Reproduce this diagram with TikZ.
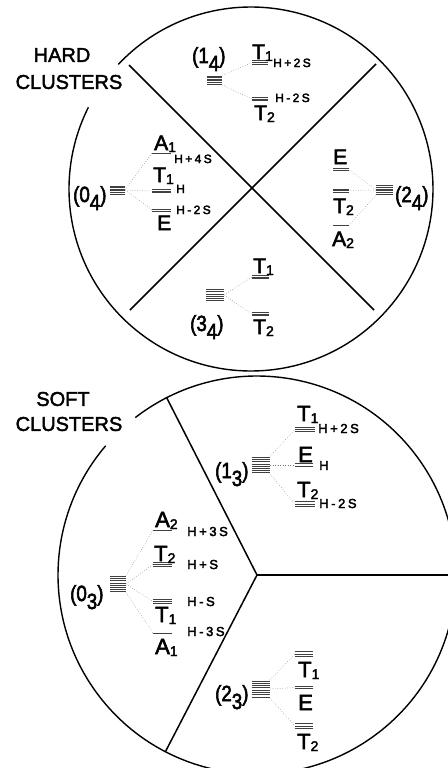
\documentclass[tikz,border=0pt]{standalone}
\usepackage{fontspec}
\setmainfont{Liberation Sans}
\newfontfamily\lblfont{Liberation Sans}[FakeBold=2.5]
\newfontfamily\clfont{Liberation Sans}[FakeBold=2.5, FakeStretch=0.85]
\newfontfamily\bigfont{Liberation Sans}[FakeBold=2]
\newfontfamily\elabfont{Liberation Sans}[LetterSpace=20, FakeBold=3]
\usetikzlibrary{calc}
\newcommand\lsub[1]{\raisebox{-2pt}{\fontsize{14}{14}\selectfont #1}}
\newcommand\csub[1]{\raisebox{-8pt}{#1}}
% level: name, xleft, xright, ycenter, number of lines, spacing
\newcommand\levl[6]{%
  \node[levnode, minimum width={(#3-#2)*1pt}, minimum height={#5*#6*1pt}] (#1) at ({(#2+#3)/2},#4) {};
  \foreach \k in {1,...,#5}{\draw[levline] (#2,{#4+(\k-(#5+1)/2)*#6}) -- (#3,{#4+(\k-(#5+1)/2)*#6});}%
}
\begin{document}
\begin{tikzpicture}[x=1pt, y=-1pt,
  circ/.style={line width=1.4pt},
  spoke/.style={line width=1.5pt},
  levline/.style={line width=0.8pt, black!75},
  levnode/.style={inner sep=0pt, outer sep=0pt, draw=none},
  conn/.style={dotted, line width=0.5pt, black!55},
  big/.style={font=\bigfont\fontsize{20}{22}\selectfont, inner sep=0pt},
  clus/.style={font=\clfont\fontsize{22}{24}\selectfont, inner sep=0pt, anchor=base west},
  sym/.style={font=\lblfont\fontsize{21}{23}\selectfont, inner sep=0pt, anchor=base west},
  symb/.style={font=\lblfont\fontsize{22}{24}\selectfont, inner sep=0pt, anchor=base west},
  elab/.style={font=\elabfont\fontsize{12}{13}\selectfont, inner sep=0pt, anchor=base west},
  elabb/.style={font=\elabfont\fontsize{13}{14}\selectfont, inner sep=0pt, anchor=base west}]
\useasboundingbox (0,0) rectangle (447,768);

% ---------- HARD CLUSTERS ----------
\coordinate (o1) at (251,189);
\draw[circ] (o1) ++(223.2:182) arc[start angle=223.2, end angle=566.7, radius=182];
\coordinate (x1a) at (129,65);
\coordinate (x1b) at (374,310);
\coordinate (x2a) at (376,64);
\coordinate (x2b) at (130,310);
\draw[spoke] (x1a) -- (x1b);
\draw[spoke] (x2a) -- (x2b);
\node[big] (hard) at (62,55) {HARD};
\node[big] (hardcl) at (69,82) {CLUSTERS};

% (1_4)
\node[clus] (c14) at (192,63) {(1\csub{4})};
\levl{s14}{207}{222}{80}{6}{1.6}
\levl{a14T1}{252}{268}{62.5}{3}{1.6}
\levl{a14T2}{252}{268}{99}{3}{1.6}
\node[sym] (la14T1) at (252,59) {T\lsub{1}};
\node[sym] (la14T2) at (254,120) {T\lsub{2}};
\node[elab] (ea14a) at (273,67) {H+2S};
\node[elab] (ea14b) at (275,102) {H-2S};
\draw[conn] (s14.north east) -- (a14T1.west);
\draw[conn] (s14.south east) -- (a14T2.west);

% (0_4)
\node[clus] (c04) at (73,202) {(0\csub{4})};
\levl{s04}{110}{125}{190}{6}{1.6}
\levl{b04A1}{152}{171}{153}{1}{1.6}
\levl{b04T1}{152}{171}{191}{3}{1.6}
\levl{b04E}{152}{171}{210}{2}{1.8}
\node[sym] (lb04A1) at (154,150) {A\lsub{1}};
\node[sym] (lb04T1) at (153,182) {T\lsub{1}};
\node[sym] (lb04E) at (157,230) {E};
\node[elab] (eb04a) at (174,163) {H+4S};
\node[elab] (eb04b) at (176,193) {H};
\node[elab] (eb04c) at (176,214) {H-2S};
\draw[conn] (s04.east) -- (b04A1.west);
\draw[conn] (s04.east) -- (b04T1.west);
\draw[conn] (s04.east) -- (b04E.west);

% (2_4)
\node[clus] (c24) at (395,202) {(2\csub{4})};
\levl{s24}{376}{393}{190}{6}{1.7}
\levl{c24E}{333}{349}{169.5}{2}{1.8}
\levl{c24T2}{333}{349}{190.5}{3}{1.6}
\levl{c24A2}{333}{349}{225}{1}{1.6}
\node[sym] (lc24E) at (333,164) {E};
\node[sym] (lc24T2) at (333,213) {T\lsub{2}};
\node[sym] (lc24A2) at (332,246) {A\lsub{2}};
\draw[conn] (s24.west) -- (c24E.east);
\draw[conn] (s24.west) -- (c24T2.east);
\draw[conn] (s24.south west) -- (c24A2.east);

% (3_4)
\node[clus] (c34) at (190,331) {(3\csub{4})};
\levl{s34}{206}{224}{295}{6}{2.2}
\levl{d34T1}{252}{269}{277}{3}{1.6}
\levl{d34T2}{252}{269}{314}{3}{1.6}
\node[sym] (ld34T1) at (253,273) {T\lsub{1}};
\node[sym] (ld34T2) at (253,334) {T\lsub{2}};
\draw[conn] (s34.east) -- (d34T1.west);
\draw[conn] (s34.east) -- (d34T2.west);

% ---------- SOFT CLUSTERS ----------
\coordinate (o2) at (257,575);
\draw[circ] (o2) ++(232.3:199) arc[start angle=232.3, end angle=580.5, radius=199];
\coordinate (q1) at (456,575);
\coordinate (q2) at (166.7,397.7);
\coordinate (q3) at (165.4,751.7);
\draw[spoke] (o2) -- (q1);
\draw[spoke] (o2) -- (q2);
\draw[spoke] (o2) -- (q3);
\node[big] (soft) at (63,399) {SOFT};
\node[big] (softcl) at (69,424) {CLUSTERS};

% (1_3)
\node[clus] (c13) at (215,478) {(1\csub{3})};
\levl{s13}{252}{270}{465}{8}{2.2}
\levl{e13T1}{295}{315}{429.5}{3}{2.2}
\levl{e13E}{295}{313}{465}{2}{2.4}
\levl{e13T2}{295}{315}{504}{3}{2.4}
\node[symb] (le13T1) at (297,421) {T\lsub{1}};
\node[symb] (le13E) at (298,462) {E};
\node[symb] (le13T2) at (297,497) {T\lsub{2}};
\node[elabb] (ee13a) at (318,433) {H+2S};
\node[elabb] (ee13b) at (319,470) {H};
\node[elabb] (ee13c) at (319,508) {H-2S};
\draw[conn] (s13.north east) -- (e13T1.west);
\draw[conn] (s13.east) -- (e13E.west);
\draw[conn] (s13.south east) -- (e13T2.west);

% (0_3)
\node[clus] (c03) at (70,601) {(0\csub{3})};
\levl{s03}{110}{126}{584}{8}{2.1}
\levl{f03A2}{153}{172}{530}{1}{2.2}
\levl{f03T2}{153}{172}{564.5}{3}{2.2}
\levl{f03T1}{153}{172}{601.5}{3}{2.2}
\levl{f03A1}{153}{172}{633}{1}{2.2}
\node[symb] (lf03A2) at (155,527) {A\lsub{2}};
\node[symb] (lf03T2) at (154,561) {T\lsub{2}};
\node[symb] (lf03T1) at (155,622) {T\lsub{1}};
\node[symb] (lf03A1) at (155,654) {A\lsub{1}};
\node[elabb] (ef03a) at (187,536) {H+3S};
\node[elabb] (ef03b) at (187,569) {H+S};
\node[elabb] (ef03c) at (187,606) {H-S};
\node[elabb] (ef03d) at (187,636) {H-3S};
\draw[conn] (s03.north east) -- (f03A2.west);
\draw[conn] (s03.east) -- (f03T2.west);
\draw[conn] (s03.east) -- (f03T1.west);
\draw[conn] (s03.south east) -- (f03A1.west);

% (2_3)
\node[clus] (c23) at (215,701) {(2\csub{3})};
\levl{s23}{252}{270}{689}{8}{2.3}
\levl{g23T1}{295}{313}{654}{3}{2.2}
\levl{g23E}{295}{313}{687.5}{2}{2.2}
\levl{g23T2}{295}{313}{726}{3}{2.2}
\node[symb] (lg23T1) at (298,677) {T\lsub{1}};
\node[symb] (lg23E) at (298,710) {E};
\node[symb] (lg23T2) at (297,749) {T\lsub{2}};
\draw[conn] (s23.north east) -- (g23T1.west);
\draw[conn] (s23.east) -- (g23E.west);
\draw[conn] (s23.south east) -- (g23T2.west);
\end{tikzpicture}
\end{document}
